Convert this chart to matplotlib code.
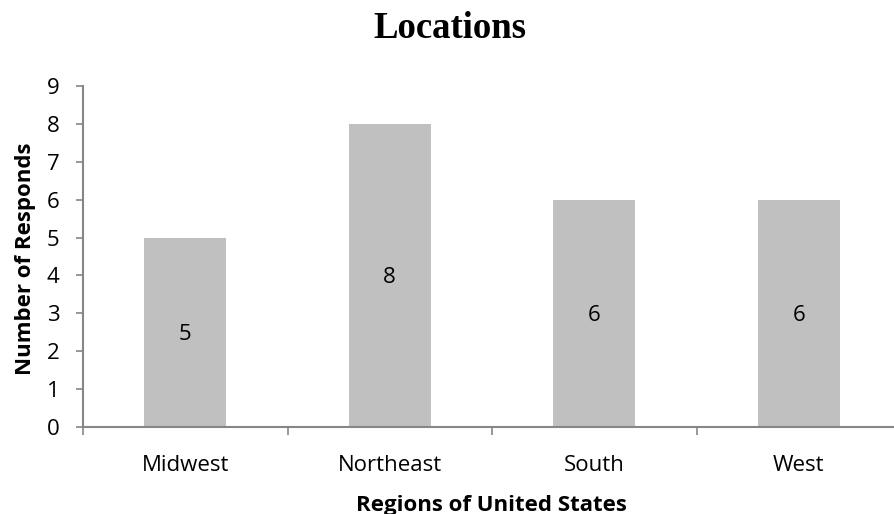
import matplotlib
matplotlib.use("Agg")
import matplotlib.pyplot as plt
import numpy as np
from matplotlib.transforms import offset_copy

categories = ["Midwest", "Northeast", "South", "West"]
values = [5, 8, 6, 6]
yticks = list(range(0, 10))

fig = plt.figure(figsize=(8.95, 5.14), dpi=100)
L, R, B, T = 83, 901, 427, 86
W, H = 895, 514
ax = fig.add_axes([L / W, 1 - B / H, (R - L) / W, (B - T) / H])

x = np.arange(len(categories))
ax.bar(x, values, width=0.4, color="#C0C0C0", zorder=2)
lbl_tr = offset_copy(ax.transData, fig=fig, x=0, y=-2, units="dots")
for xi, v in zip(x, values):
    ax.text(xi, v / 2, str(v), ha="center", va="center", fontsize=16,
            family="Open Sans", color="black", transform=lbl_tr)

ax.set_xlim(-0.5, len(categories) - 0.5)
ax.set_ylim(0, 9)
ax.set_yticks(yticks)
ax.set_yticklabels([str(t) for t in yticks], fontsize=16, family="Open Sans")
ax.set_xticks(x)
ax.set_xticklabels(categories, fontsize=16, family="Open Sans")
ax.set_xticks(np.arange(-0.5, len(categories) + 0.5, 1), minor=True)
ax.tick_params(axis="x", which="major", length=0, pad=20)
ax.tick_params(axis="x", which="minor", length=6, color="#868686", width=1.2, direction="out")
ax.tick_params(axis="y", length=5, color="#868686", width=1.2, direction="out", pad=12)

for s in ["top", "right"]:
    ax.spines[s].set_visible(False)
for s in ["left", "bottom"]:
    ax.spines[s].set_color("#868686")
    ax.spines[s].set_linewidth(1.5)

fig.text(26 / W, 1 - 259 / H, "Number of Responds", rotation=90, ha="center", va="center",
         fontsize=16, fontweight="bold", family="Open Sans")
fig.text(491 / W, 1 - 505 / H, "Regions of United States", ha="center", va="center",
         fontsize=16, fontweight="bold", family="Open Sans")
fig.text(450 / W, 1 - 38 / H, "Locations", ha="center", va="baseline", fontsize=26.5,
         fontweight="bold", family="Liberation Serif")

fig.savefig("out.png", dpi=100)
